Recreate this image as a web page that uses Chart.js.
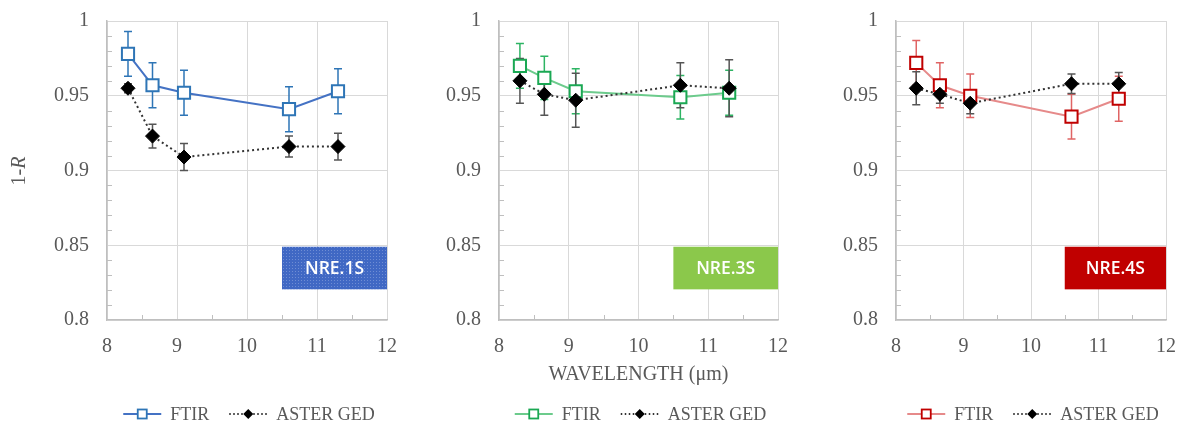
<!DOCTYPE html>
<html>
<head>
<meta charset="utf-8">
<script src="https://cdn.jsdelivr.net/npm/chart.js@4.4.1/dist/chart.umd.min.js"></script>
<style>
  html, body { margin: 0; padding: 0; background: #fff; }
  #wrap { position: relative; width: 1193px; height: 428px; overflow: hidden; }
  .panel { position: absolute; top: 0; height: 428px; }
</style>
</head>
<body>
<div id="wrap">
  <div class="panel" style="left:0;width:400px"><canvas id="c1"></canvas></div>
  <div class="panel" style="left:400px;width:400px"><canvas id="c2"></canvas></div>
  <div class="panel" style="left:800px;width:393px"><canvas id="c3"></canvas></div>
</div>
<script>
  // wavelengths (µm) shared by all three samples
  const wavelengths = [8.3, 8.65, 9.1, 10.6, 11.3];

  // NRE.1S
  const ftir1S = [0.978, 0.957, 0.952, 0.941, 0.953];
  const ftirErr1S = [0.015, 0.015, 0.015, 0.015, 0.015];
  const aster1S = [0.955, 0.923, 0.909, 0.916, 0.916];
  const asterErr1S = [0.003, 0.008, 0.009, 0.007, 0.009];

  // NRE.3S
  const ftir3S = [0.970, 0.962, 0.953, 0.949, 0.952];
  const ftirErr3S = [0.015, 0.0145, 0.015, 0.0145, 0.015];
  const aster3S = [0.960, 0.951, 0.947, 0.957, 0.955];
  const asterErr3S = [0.015, 0.014, 0.018, 0.015, 0.019];

  // NRE.4S
  const ftir4S = [0.972, 0.957, 0.950, 0.936, 0.948];
  const ftirErr4S = [0.015, 0.015, 0.0145, 0.015, 0.015];
  const aster4S = [0.955, 0.951, 0.945, 0.958, 0.958];
  const asterErr4S = [0.011, 0.006, 0.007, 0.0065, 0.0075];

  const seriesNames = ["FTIR", "ASTER GED"];
  const sampleNames = ["NRE.1S", "NRE.3S", "NRE.4S"];
  const yTicksMajor = [0.8, 0.85, 0.9, 0.95, 1];
  const xTicksMajor = [8, 9, 10, 11, 12];

  const TEXT = "#595959";
  const GRID = "#d9d9d9";
  const AXIS = "#bfbfbf";
  const SERIF = "'Liberation Serif', 'Times New Roman', serif";

  const isMajorX = (v) => xTicksMajor.some((t) => Math.abs(t - v) < 1e-6);
  const isMajorY = (v) => yTicksMajor.some((t) => Math.abs(t - v) < 1e-6);
  const toPoints = (ys) => ys.map((y, i) => ({ x: wavelengths[i], y }));

  function dotPattern(ctx) {
    const tile = document.createElement("canvas");
    tile.width = 3; tile.height = 3;
    const t = tile.getContext("2d");
    t.fillStyle = "#4068c4";
    t.fillRect(0, 0, 3, 3);
    t.fillStyle = "#6f8dd4";
    t.fillRect(1, 1, 1, 1);
    return ctx.createPattern(tile, "repeat");
  }

  const panels = [
    { canvas: "c1", tag: sampleNames[0], tagColor: "pattern", axisWidth: 107, padRight: 13,
      ftir: ftir1S, ftirErr: ftirErr1S, aster: aster1S, asterErr: asterErr1S,
      line: "#4472c4", marker: "#2e75b6", err: "#2e75b6", yTitle: true, xTitle: false },
    { canvas: "c2", tag: sampleNames[1], tagColor: "#8bc84b", axisWidth: 99, padRight: 22,
      ftir: ftir3S, ftirErr: ftirErr3S, aster: aster3S, asterErr: asterErr3S,
      line: "#6ccb8c", marker: "#1aa853", err: "#2db463", yTitle: false, xTitle: true },
    { canvas: "c3", tag: sampleNames[2], tagColor: "#c00000", axisWidth: 96, padRight: 27,
      ftir: ftir4S, ftirErr: ftirErr4S, aster: aster4S, asterErr: asterErr4S,
      line: "#e68a8a", marker: "#c00000", err: "#e06464", yTitle: false, xTitle: false },
  ];

  // vertical error bars, drawn under the markers
  const errorBars = {
    id: "errorBars",
    beforeDatasetsDraw(chart) {
      const { ctx, scales: { y } } = chart;
      chart.data.datasets.forEach((ds, i) => {
        const meta = chart.getDatasetMeta(i);
        ctx.save();
        ctx.strokeStyle = ds.errorColor;
        ctx.lineWidth = 1.5;
        meta.data.forEach((pt, j) => {
          const e = ds.errors[j];
          if (!e) return;
          const v = ds.data[j].y;
          const top = y.getPixelForValue(v + e);
          const bot = y.getPixelForValue(v - e);
          ctx.beginPath();
          ctx.moveTo(pt.x, top); ctx.lineTo(pt.x, bot);
          ctx.moveTo(pt.x - 4, top); ctx.lineTo(pt.x + 4, top);
          ctx.moveTo(pt.x - 4, bot); ctx.lineTo(pt.x + 4, bot);
          ctx.stroke();
        });
        ctx.restore();
      });
    },
  };

  // short inside tick marks between the gridlines
  const minorTicks = {
    id: "minorTicks",
    beforeDatasetsDraw(chart) {
      const { ctx, chartArea: a, scales: { x, y } } = chart;
      ctx.save();
      ctx.strokeStyle = AXIS;
      ctx.lineWidth = 1;
      ctx.beginPath();
      x.ticks.forEach((t) => {
        if (isMajorX(t.value)) return;
        const px = Math.round(x.getPixelForValue(t.value)) + 0.5;
        ctx.moveTo(px, a.bottom); ctx.lineTo(px, a.bottom - 5);
      });
      y.ticks.forEach((t) => {
        if (isMajorY(t.value)) return;
        const py = Math.round(y.getPixelForValue(t.value)) + 0.5;
        ctx.moveTo(a.left, py); ctx.lineTo(a.left + 5, py);
      });
      ctx.stroke();
      ctx.restore();
    },
  };

  // sample tag, y title and legend
  const overlay = {
    id: "overlay",
    afterDraw(chart) {
      const { ctx, chartArea: a, scales: { x, y } } = chart;
      const p = chart.options.plugins.overlay;
      ctx.save();

      // tag box
      const x0 = x.getPixelForValue(10.5), x1 = x.getPixelForValue(12);
      const y0 = y.getPixelForValue(0.849), y1 = y.getPixelForValue(0.8205);
      ctx.fillStyle = p.tagColor === "pattern" ? dotPattern(ctx) : p.tagColor;
      ctx.fillRect(x0, y0, x1 - x0, y1 - y0);
      ctx.fillStyle = "#fff";
      ctx.font = "600 17.5px 'Open Sans', sans-serif";
      ctx.textAlign = "center";
      ctx.textBaseline = "middle";
      ctx.fillText(p.tag, (x0 + x1) / 2, (y0 + y1) / 2 + 1);

      // y title "1-R" with italic R
      if (p.yTitle) {
        ctx.save();
        ctx.translate(20, 171);
        ctx.rotate(-Math.PI / 2);
        ctx.fillStyle = TEXT;
        ctx.textAlign = "left";
        ctx.font = "20px " + SERIF;
        const w1 = ctx.measureText("1-").width;
        ctx.font = "italic 20px " + SERIF;
        const w2 = ctx.measureText("R").width;
        ctx.font = "20px " + SERIF;
        ctx.fillText("1-", -(w1 + w2) / 2, 0);
        ctx.font = "italic 20px " + SERIF;
        ctx.fillText("R", -(w1 + w2) / 2 + w1, 0);
        ctx.restore();
      }

      // legend
      ctx.font = "18px " + SERIF;
      ctx.textAlign = "left";
      ctx.textBaseline = "middle";
      const sample = 38, gapText = 9, gapItem = 20;
      const items = chart.data.datasets.map((ds) => ({ ds, w: ctx.measureText(ds.label).width }));
      const total = items.reduce((s, it) => s + sample + gapText + it.w, 0) + gapItem * (items.length - 1);
      let lx = (a.left + a.right) / 2 - total / 2 + 2;
      const ly = 414;
      items.forEach(({ ds, w }) => {
        ctx.save();
        ctx.strokeStyle = ds.borderColor;
        ctx.lineWidth = 2;
        if (ds.borderDash) ctx.setLineDash([1.5, 2.5]);
        ctx.beginPath();
        ctx.moveTo(lx, ly); ctx.lineTo(lx + sample, ly);
        ctx.stroke();
        ctx.setLineDash([]);
        const cx = lx + sample / 2;
        if (ds.pointStyle === "rect") {
          ctx.fillStyle = "#fff";
          ctx.strokeStyle = ds.pointBorderColor;
          ctx.lineWidth = 1.8;
          ctx.fillRect(cx - 4.5, ly - 4.5, 9, 9);
          ctx.strokeRect(cx - 4.5, ly - 4.5, 9, 9);
        } else {
          ctx.fillStyle = "#000";
          ctx.beginPath();
          ctx.moveTo(cx, ly - 5); ctx.lineTo(cx + 5, ly);
          ctx.lineTo(cx, ly + 5); ctx.lineTo(cx - 5, ly);
          ctx.closePath();
          ctx.fill();
        }
        ctx.restore();
        ctx.fillStyle = TEXT;
        ctx.fillText(ds.label, lx + sample + gapText, ly + 1);
        lx += sample + gapText + w + gapItem;
      });
      ctx.restore();
    },
  };

  function makeChart(p) {
    return new Chart(document.getElementById(p.canvas), {
      type: "line",
      data: {
        datasets: [
          {
            label: seriesNames[0], data: toPoints(p.ftir), errors: p.ftirErr, errorColor: p.err,
            borderColor: p.line, borderWidth: 2, tension: 0,
            pointStyle: "rect", pointRadius: 8.6, pointBorderWidth: 2,
            pointBorderColor: p.marker, pointBackgroundColor: "#fff", order: 1,
          },
          {
            label: seriesNames[1], data: toPoints(p.aster), errors: p.asterErr, errorColor: "#555",
            borderColor: "#333", borderWidth: 2, borderDash: [2, 3], tension: 0,
            pointStyle: "rectRot", pointRadius: 7, pointBorderWidth: 1,
            pointBorderColor: "#000", pointBackgroundColor: "#000", order: 0,
          },
        ],
      },
      options: {
        responsive: true,
        maintainAspectRatio: false,
        animation: false,
        events: [],
        layout: { padding: { left: 0, right: p.padRight, top: 21, bottom: 33 } },
        plugins: {
          legend: { display: false },
          tooltip: { enabled: false },
          overlay: { tag: p.tag, tagColor: p.tagColor, yTitle: p.yTitle },
        },
        scales: {
          x: {
            type: "linear", min: 8, max: 12,
            ticks: {
              stepSize: 0.5, autoSkip: false, maxRotation: 0, padding: 15,
              color: TEXT, font: { family: SERIF, size: 20 },
              callback: (v) => (isMajorX(v) ? String(Math.round(v)) : ""),
            },
            grid: { color: (c) => (c.tick && isMajorX(c.tick.value) ? GRID : "rgba(0,0,0,0)"), drawTicks: false },
            border: { color: AXIS, width: 1.5 },
            title: {
              display: p.xTitle, text: "WAVELENGTH (μm)", color: TEXT,
              font: { family: SERIF, size: 20 }, padding: { top: 0, bottom: 8 },
            },
            afterFit: (s) => { s.height = 75; s.paddingLeft = 0; s.paddingRight = 0; },
          },
          y: {
            type: "linear", min: 0.8, max: 1,
            ticks: {
              stepSize: 0.01, autoSkip: false, padding: 18,
              color: TEXT, font: { family: SERIF, size: 20 },
              callback: (v) => (isMajorY(v) ? String(Math.round(v * 100) / 100) : ""),
            },
            grid: { color: (c) => (c.tick && isMajorY(c.tick.value) ? GRID : "rgba(0,0,0,0)"), drawTicks: false },
            border: { color: AXIS, width: 1.5 },
            afterFit: (s) => { s.width = p.axisWidth; s.paddingTop = 0; s.paddingBottom = 0; },
          },
        },
      },
      plugins: [minorTicks, errorBars, overlay],
    });
  }

  panels.forEach(makeChart);
</script>
</body>
</html>
